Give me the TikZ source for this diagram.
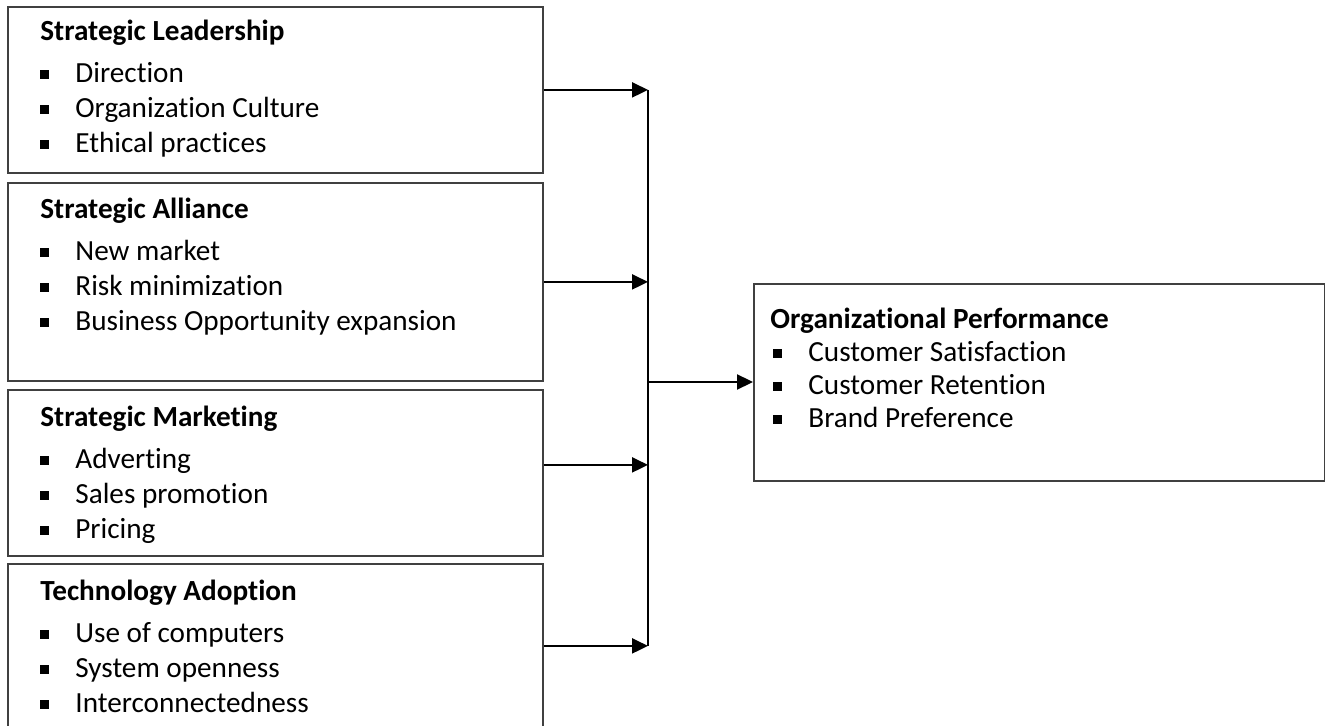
\documentclass[tikz,border=0pt]{standalone}
\usepackage{fontspec}
\setmainfont[Ligatures=NoCommon]{Carlito}
\usetikzlibrary{positioning,arrows.meta}

\newcommand{\sqbul}{\rule[2pt]{4.3pt}{4.3pt}}
\newcommand{\itm}[1]{\makebox[17.5pt][l]{\sqbul}#1}

\tikzset{
    factorbox/.style = {draw = black!75, line width = 0.9pt, rectangle, anchor = north west, inner sep = 0pt},
    boxtext/.style = {anchor = north west, align = left, inner sep = 0pt, font = \fontsize{14.6}{17.5}\selectfont},
    feed/.style = {-{Triangle[length=8pt,width=7.5pt]}, line width = 1.1pt}
}

\begin{document}
\begin{tikzpicture}[x=0.5pt, y=-0.5pt]
    \useasboundingbox (0,0) rectangle (1325,726);
    % factor boxes
    \node[factorbox, minimum width = 267.5pt, minimum height = 83pt] (lead) at (7,6) {};
    \node[factorbox, minimum width = 267.5pt, minimum height = 99pt] (ally) at (7,182) {};
    \node[factorbox, minimum width = 267.5pt, minimum height = 83pt] (mark) at (7,389) {};
    \node[factorbox, minimum width = 267.5pt, minimum height = 82pt] (tech) at (7,563) {};
    \node[factorbox, minimum width = 285.5pt, minimum height = 98.5pt] (perf) at (753,283) {};
    % texts
    \node[boxtext, below right = 7pt and 16.5pt of lead.north west] (leadtxt)
        {\textbf{Strategic Leadership}\\[3.5pt]
         \itm{Direction}\\
         \itm{Organization Culture}\\
         \itm{Ethical practices}};
    \node[boxtext, below right = 8pt and 16.5pt of ally.north west] (allytxt)
        {\textbf{Strategic Alliance}\\[3.5pt]
         \itm{New market}\\
         \itm{Risk minimization}\\
         \itm{Business Opportunity expansion}};
    \node[boxtext, below right = 8.5pt and 16.5pt of mark.north west] (marktxt)
        {\textbf{Strategic Marketing}\\[3.5pt]
         \itm{Adverting}\\
         \itm{Sales promotion}\\
         \itm{Pricing}};
    \node[boxtext, below right = 8.5pt and 16.5pt of tech.north west] (techtxt)
        {\textbf{Technology Adoption}\\[3.5pt]
         \itm{Use of computers}\\
         \itm{System openness}\\
         \itm{Interconnectedness}};
    \node[boxtext, below right = 12.5pt and 8.5pt of perf.north west, font = \fontsize{14.6}{16.5}\selectfont] (perftxt)
        {\textbf{Organizational Performance}\\
         \hspace*{1.5pt}\itm{Customer Satisfaction}\\
         \hspace*{1.5pt}\itm{Customer Retention}\\
         \hspace*{1.5pt}\itm{Brand Preference}};
    % connectors
    \coordinate (jn) at (648,382);
    \coordinate (marko) at ([yshift=4pt]mark.east);
    \draw[line width = 1.1pt] (jn |- lead.east) -- (jn |- tech.east);
    \draw[feed] (lead.east) -- (jn |- lead.east);
    \draw[feed] (ally.east) -- (jn |- ally.east);
    \draw[feed] (marko) -- (jn |- marko);
    \draw[feed] (tech.east) -- (jn |- tech.east);
    \draw[feed] (jn) -- (jn -| perf.west);
\end{tikzpicture}
\end{document}
